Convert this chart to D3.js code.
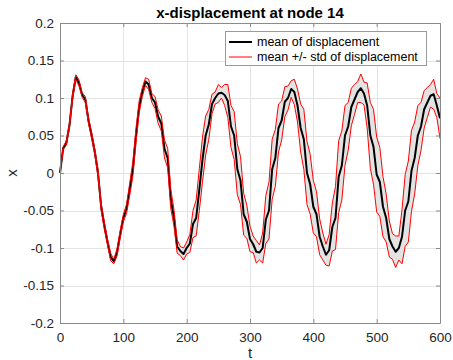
<!DOCTYPE html>
<html>
<head>
<meta charset="utf-8">
<script src="https://cdn.jsdelivr.net/npm/d3@7"></script>
<style>
  body { margin: 0; background: #fff; }
  svg { display: block; font-family: "Liberation Sans", Arial, Helvetica, sans-serif; }
</style>
</head>
<body>
<svg id="chart" width="453" height="360"></svg>
<script>
// sample times (every 5 steps)
var tValues = d3.range(0, 601, 5);

// mean of x-displacement
var meanValues = [
  0, 0.033, 0.04, 0.064, 0.103, 0.128, 0.12, 0.104, 0.098, 0.07,
  0.05, 0.028, 0.0, -0.045, -0.07, -0.092, -0.112, -0.118, -0.106, -0.082,
  -0.06, -0.048, -0.022, 0.005, 0.05, 0.088, 0.108, 0.122, 0.118, 0.1,
  0.094, 0.075, 0.066, 0.032, 0.02, -0.035, -0.06, -0.098, -0.104, -0.108,
  -0.1, -0.094, -0.068, -0.06, -0.022, 0.018, 0.05, 0.065, 0.092, 0.1,
  0.106, 0.107, 0.104, 0.096, 0.062, 0.05, 0.005, -0.01, -0.055, -0.065,
  -0.088, -0.095, -0.105, -0.106, -0.1, -0.062, -0.05, 0.005, 0.02, 0.06,
  0.07, 0.095, 0.1, 0.112, 0.108, 0.09, 0.06, 0.045, 0.0, -0.015,
  -0.045, -0.055, -0.085, -0.098, -0.109, -0.103, -0.072, -0.06, -0.005, 0.01,
  0.05, 0.062, 0.088, 0.098, 0.108, 0.113, 0.106, 0.09, 0.05, 0.035,
  -0.002, -0.012, -0.045, -0.06, -0.088, -0.098, -0.105, -0.1, -0.085, -0.05,
  -0.038, 0.003, 0.02, 0.05, 0.062, 0.085, 0.094, 0.103, 0.105, 0.09,
  0.073
];

// std of x-displacement
var stdValues = [
  0, 0.002, 0.003, 0.003, 0.004, 0.003, 0.004, 0.003, 0.004, 0.004,
  0.004, 0.004, 0.005, 0.005, 0.005, 0.004, 0.005, 0.003, 0.005, 0.005,
  0.005, 0.006, 0.008, 0.01, 0.01, 0.008, 0.006, 0.005, 0.007, 0.006,
  0.008, 0.009, 0.01, 0.012, 0.013, 0.013, 0.011, 0.009, 0.006, 0.008,
  0.008, 0.012, 0.018, 0.024, 0.028, 0.03, 0.026, 0.02, 0.013, 0.008,
  0.012, 0.007, 0.014, 0.022, 0.028, 0.032, 0.034, 0.032, 0.028, 0.022,
  0.017, 0.011, 0.015, 0.01, 0.02, 0.032, 0.038, 0.04, 0.038, 0.032,
  0.026, 0.02, 0.016, 0.011, 0.017, 0.022, 0.032, 0.04, 0.042, 0.04,
  0.035, 0.03, 0.024, 0.018, 0.014, 0.021, 0.032, 0.042, 0.048, 0.046,
  0.04, 0.032, 0.025, 0.02, 0.014, 0.019, 0.015, 0.03, 0.044, 0.05,
  0.05, 0.046, 0.04, 0.032, 0.024, 0.017, 0.021, 0.016, 0.036, 0.048,
  0.054, 0.054, 0.048, 0.04, 0.032, 0.025, 0.02, 0.015, 0.02, 0.016,
  0.027
];

var xTicks = [0, 100, 200, 300, 400, 500, 600];
var yTicks = [-0.2, -0.15, -0.1, -0.05, 0, 0.05, 0.1, 0.15, 0.2];
var yTickLabels = ["-0.2", "-0.15", "-0.1", "-0.05", "0", "0.05", "0.1", "0.15", "0.2"];
var legendLabels = ["mean of displacement", "mean +/- std of displacement"];

var data = tValues.map((t, i) => ({t: t, m: meanValues[i], s: stdValues[i]}));

var plotLeft = 60, plotRight = 440, plotTop = 23, plotBottom = 323;
var axisColor = "#8a8a8a";

var svg = d3.select("#chart");

var x = d3.scaleLinear().domain([0, 600]).range([plotLeft, plotRight]);
var y = d3.scaleLinear().domain([-0.2, 0.2]).range([plotBottom, plotTop]);

// grid
var grid = svg.append("g").attr("stroke", "#e4e4e4").attr("stroke-width", 1);
grid.selectAll("line.gx").data(xTicks.slice(1, -1)).join("line")
    .attr("x1", d => Math.round(x(d)) + 0.5).attr("x2", d => Math.round(x(d)) + 0.5)
    .attr("y1", plotTop).attr("y2", plotBottom);
grid.selectAll("line.gy").data(yTicks.slice(1, -1)).join("line")
    .attr("y1", d => Math.round(y(d)) + 0.5).attr("y2", d => Math.round(y(d)) + 0.5)
    .attr("x1", plotLeft).attr("x2", plotRight);

// band between mean-std and mean+std
svg.append("path")
    .datum(data)
    .attr("fill", "#e3e3e3")
    .attr("d", d3.area().x(d => x(d.t)).y0(d => y(d.m - d.s)).y1(d => y(d.m + d.s)));

var upper = d3.line().x(d => x(d.t)).y(d => y(d.m + d.s));
var lower = d3.line().x(d => x(d.t)).y(d => y(d.m - d.s));
var meanLine = d3.line().x(d => x(d.t)).y(d => y(d.m));

svg.append("path").datum(data).attr("fill", "none").attr("stroke", "#000")
    .attr("stroke-width", 2).attr("stroke-linejoin", "round").attr("d", meanLine);
svg.append("path").datum(data).attr("fill", "none").attr("stroke", "#ff0000")
    .attr("stroke-width", 1).attr("d", upper);
svg.append("path").datum(data).attr("fill", "none").attr("stroke", "#ff0000")
    .attr("stroke-width", 1).attr("d", lower);

// axes (ticks pointing inward, box all round)
function styleAxis(g) {
  g.selectAll("path.domain").attr("stroke", axisColor);
  g.selectAll(".tick line").attr("stroke", axisColor);
  g.selectAll(".tick text").attr("fill", "#262626").attr("font-size", "13.5px")
    .attr("font-family", "'Liberation Sans', Arial, Helvetica, sans-serif");
}

svg.append("g").attr("transform", `translate(0,${plotBottom})`)
    .call(d3.axisBottom(x).tickValues(xTicks).tickSize(-4).tickSizeOuter(0).tickPadding(9.5))
    .call(styleAxis);
svg.append("g").attr("transform", `translate(0,${plotTop})`)
    .call(d3.axisTop(x).tickValues(xTicks).tickSize(-4).tickSizeOuter(0).tickFormat(""))
    .call(styleAxis);
svg.append("g").attr("transform", `translate(${plotLeft},0)`)
    .call(d3.axisLeft(y).tickValues(yTicks).tickSize(-4).tickSizeOuter(0).tickPadding(6)
      .tickFormat((d, i) => yTickLabels[i]))
    .call(styleAxis);
svg.append("g").attr("transform", `translate(${plotRight},0)`)
    .call(d3.axisRight(y).tickValues(yTicks).tickSize(-4).tickSizeOuter(0).tickFormat(""))
    .call(styleAxis);

// labels
svg.append("text")
    .attr("x", (plotLeft + plotRight) / 2).attr("y", 18)
    .attr("text-anchor", "middle").attr("font-weight", "bold").attr("font-size", "15px")
    .attr("fill", "#000")
    .text("x-displacement at node 14");

svg.append("text")
    .attr("x", (plotLeft + plotRight) / 2).attr("y", 358)
    .attr("text-anchor", "middle").attr("font-size", "15px").attr("fill", "#262626")
    .text("t");

svg.append("text")
    .attr("transform", `translate(17,${(plotTop + plotBottom) / 2}) rotate(-90)`)
    .attr("text-anchor", "middle").attr("font-size", "15px").attr("fill", "#262626")
    .text("x");

// legend
var legend = svg.append("g");
legend.append("rect")
    .attr("x", 225.5).attr("y", 31.5).attr("width", 201).attr("height", 34)
    .attr("fill", "#fff").attr("stroke", "#9a9a9a");
var legendStyles = [{color: "#000", w: 2}, {color: "#ff0000", w: 1}];
legendLabels.forEach((label, i) => {
  var cy = 42 + i * 15;
  legend.append("line")
      .attr("x1", 229).attr("x2", 252).attr("y1", cy).attr("y2", cy)
      .attr("stroke", legendStyles[i].color).attr("stroke-width", legendStyles[i].w);
  legend.append("text")
      .attr("x", 257).attr("y", cy).attr("dy", "0.35em")
      .attr("font-size", "12.5px").attr("fill", "#000")
      .text(label);
});
</script>
</body>
</html>
